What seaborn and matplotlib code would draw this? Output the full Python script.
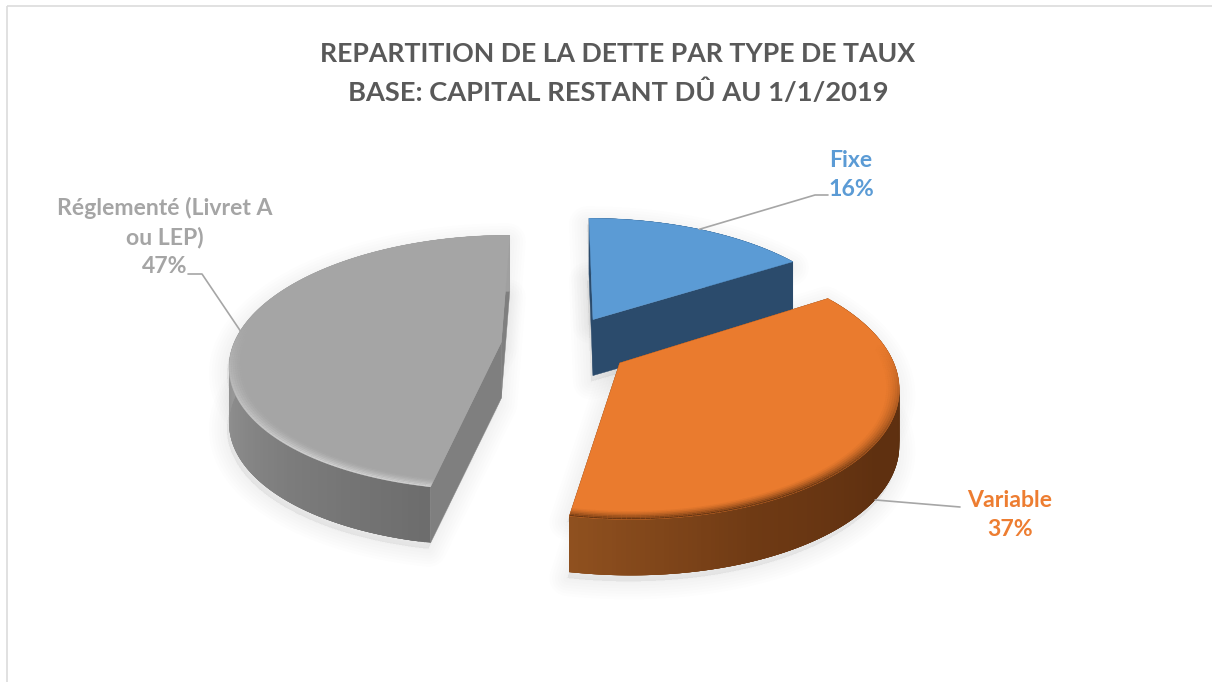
import numpy as np
import seaborn as sns
import matplotlib
matplotlib.use("Agg")
import matplotlib.pyplot as plt
from matplotlib.collections import PolyCollection
from matplotlib.patches import Rectangle

# Donnees
labels = ["Fixe", "Variable", "Réglementé (Livret A\nou LEP)"]
shares = [16, 37, 47]
title_lines = ["REPARTITION DE LA DETTE PAR TYPE DE TAUX", "BASE: CAPITAL RESTANT DÛ AU 1/1/2019"]

# Style
top_colors = ["#5b9bd5", "#ea7b2e", "#a5a5a5"]
text_colors = ["#5b9bd5", "#ed7d31", "#a5a5a5"]
cut_colors = ["#2b4b6c", "#6a3712", "#7f7f7f"]
wall_stops = [["#2b4b6c", "#2b4b6c"],
              ["#5e300f", "#5e300f", "#5f3010", "#6f3a14", "#8f501f"],
              ["#6d6d6d", "#7e7e7e", "#929292", "#a0a0a0", "#a0a0a0", "#a0a0a0"]]
rim_colors = ["#2b4b6c", "#5e300f", "#d6d6d6"]
explode = [0.24, 0.25, 0.232]
label_pos = [(851, 175), (1010, 515), (165, 237)]
elbows = [[(815, 195), (828, 195)], [(960, 507)], [(202, 274), (188, 274)]]
z_order = {0: 30, 2: 20, 1: 40}

# Projection du disque vers l'image (en pixels)
CX, CY, RX, RY, PERSP = 563, 345, 268, 125, 0.16
DEPTH = 56

sns.set_theme(style="white")
plt.rcParams["font.family"] = ["Lato", "DejaVu Sans"]


def project(theta, r, e, mid):
    u = r * np.sin(theta) + e * np.sin(mid)
    v = r * np.cos(theta) + e * np.cos(mid)
    s = 1 / (1 + PERSP * v)
    return CX + RX * u * s, CY - RY * v * s


fig = plt.figure(figsize=(12.12, 6.82), dpi=100)
ax = fig.add_axes([0, 0, 1, 1])
ax.set_xlim(0, 1212)
ax.set_ylim(682, 0)
ax.axis("off")
ax.add_patch(Rectangle((7, 6), 1300, 800, fill=False, edgecolor="#dcdcdc", linewidth=1.2))

edges = np.radians(np.concatenate([[0], np.cumsum(shares)]) * 3.6)
anchors = []

for i in [0, 2, 1]:
    t0, t1 = edges[i], edges[i + 1]
    mid = (t0 + t1) / 2
    e = explode[i]
    theta = np.linspace(t0, t1, 160)
    arc_x, arc_y = project(theta, 1, e, mid)
    px, py = project(0, 0, e, mid)
    top_x = np.concatenate([[px], arc_x])
    top_y = np.concatenate([[py], arc_y])
    base = z_order[i]

    # ombre douce
    for lw in range(26, 0, -4):
        for dy in (DEPTH + 6, 6):
            ax.fill(top_x - 2, top_y + dy, facecolor=(0, 0, 0, 0.008), edgecolor=(0, 0, 0, 0.008),
                    linewidth=lw, joinstyle="round", zorder=1)

    # faces coupees
    for k in (0, -1):
        ax.fill([px, arc_x[k], arc_x[k], px], [py, arc_y[k], arc_y[k] + DEPTH, py + DEPTH],
                color=cut_colors[i], linewidth=0.3, zorder=base)

    # paroi exterieure en degrade (bandes qui se recouvrent pour eviter les raies)
    pal = sns.blend_palette(wall_stops[i], n_colors=len(theta) - 1)
    quads = []
    for k in range(len(theta) - 1):
        n = min(k + 4, len(theta) - 1)
        quads.append([(arc_x[k], arc_y[k]), (arc_x[n], arc_y[n]),
                      (arc_x[n], arc_y[n] + DEPTH), (arc_x[k], arc_y[k] + DEPTH)])
    ax.add_collection(PolyCollection(quads, facecolors=pal, edgecolors="none", zorder=base + 1))

    # dessus
    ax.fill(top_x, top_y, color=top_colors[i], linewidth=0.3, zorder=base + 2)

    # biseau du bord
    levels = np.linspace(0.955, 1.0, 7)
    rim_quads, rim_cols = [], []
    rgb = matplotlib.colors.to_rgb(rim_colors[i])
    for a, b in zip(levels[:-1], levels[1:]):
        xa, ya = project(theta, a, e, mid)
        xb, yb = project(theta, b, e, mid)
        for k in range(len(theta) - 1):
            facing = np.clip(0.15 - np.cos(theta[k]), 0, 1)
            alpha = facing * ((b - 0.955) / 0.045) ** 1.5 * 0.9
            rim_quads.append([(xa[k], ya[k]), (xa[k + 1], ya[k + 1]), (xb[k + 1], yb[k + 1]), (xb[k], yb[k])])
            rim_cols.append((*rgb, alpha))
    ax.add_collection(PolyCollection(rim_quads, facecolors=rim_cols, edgecolors="none", zorder=base + 3))

    ex, ey = project(mid, 1, e, mid)
    anchors.append((i, ex, ey + (DEPTH if np.cos(mid) < -0.3 else 0)))

# Etiquettes et traits de rappel
for i, ex, ey in anchors:
    pts = [(ex, ey)] + elbows[i]
    ax.plot([p[0] for p in pts], [p[1] for p in pts], color="#a6a6a6", linewidth=1.2, zorder=60)
    ax.text(label_pos[i][0], label_pos[i][1], f"{labels[i]}\n{shares[i]}%", color=text_colors[i],
            fontsize=16.6, fontweight="bold", ha="center", va="center", linespacing=1.42, zorder=70)

ax.text(618, 54, title_lines[0], color="#595959", fontsize=19.2, fontweight="bold", ha="center", va="center")
ax.text(618, 92, title_lines[1], color="#595959", fontsize=19.6, fontweight="bold", ha="center", va="center")

fig.savefig("out.png", dpi=100)
